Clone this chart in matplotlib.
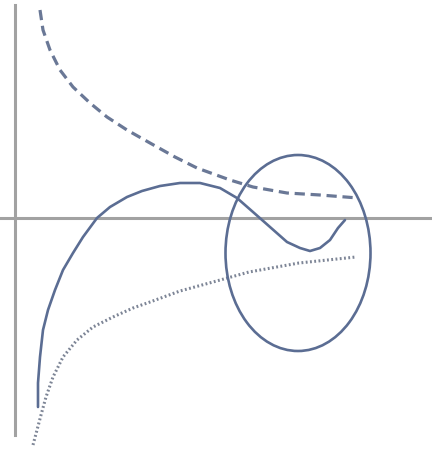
import matplotlib
matplotlib.use("Agg")
import matplotlib.pyplot as plt
from matplotlib.patches import Ellipse

# curve points (x, y) relative to axis origin, y up
solid_x = [23, 23, 25, 28, 33, 40, 48, 58, 68, 82, 95, 112, 127, 145, 165, 185, 205, 222, 238, 255, 272, 285, 295, 305, 315, 323, 330]
solid_y = [-189, -165, -139, -112, -92, -72, -52, -35, -19, 0, 11, 21, 27, 32, 35, 35, 30, 20, 6, -9, -24, -30, -33, -30, -22, -10, -2]

dashed_x = [25, 28, 35, 45, 58, 75, 92, 112, 135, 160, 182, 215, 238, 272, 305, 343]
dashed_y = [208, 188, 168, 148, 131, 115, 101, 88, 75, 61, 50, 38, 31, 25, 23, 20]

dotted_x = [18, 22, 26, 31, 38, 48, 62, 78, 98, 118, 135, 165, 198, 234, 284, 341]
dotted_y = [-227, -212, -197, -179, -159, -139, -122, -109, -99, -90, -84, -73, -64, -54, -45, -39]

ellipse_center = (283, -35)
ellipse_w, ellipse_h = 145, 196

fig = plt.figure(figsize=(4.32, 4.51), dpi=100)
ax = fig.add_axes([0, 0, 1, 1])
ax.set_xlim(-15, 417)
ax.set_ylim(-233, 218)

axis_color = "#a2a2a2"
ax.axhline(0, color=axis_color, lw=2.2, zorder=1)
ax.plot([0, 0], [-217, 213], color=axis_color, lw=2.2, zorder=1)

blue = "#5b6d93"
ax.plot(solid_x, solid_y, color=blue, lw=1.9, solid_capstyle="round",
        solid_joinstyle="round", zorder=3)
ax.plot(dashed_x, dashed_y, color="#6a7896", lw=2.3, dashes=(3.2, 1.8), zorder=3)
ax.plot(dotted_x, dotted_y, color="#7d8596", lw=2.2, dashes=(0.6, 0.8), zorder=3)
ax.add_patch(Ellipse(ellipse_center, ellipse_w, ellipse_h, fill=False,
                     edgecolor=blue, lw=1.9, zorder=3))

ax.axis("off")
fig.savefig("out.png", dpi=100)
